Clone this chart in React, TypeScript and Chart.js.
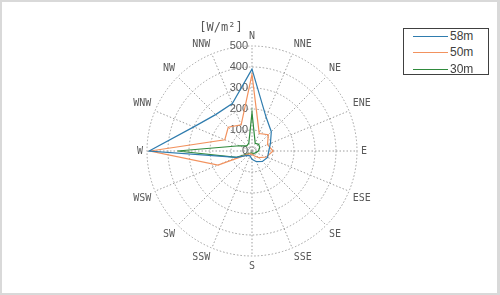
import React, { useEffect, useRef } from 'react';
import { Chart, registerables } from 'chart.js';

Chart.register(...registerables);

const directions = ['N', 'NNE', 'NE', 'ENE', 'E', 'ESE', 'SE', 'SSE', 'S', 'SSW', 'SW', 'WSW', 'W', 'WNW', 'NW', 'NNW'];
const power58 = [390, 175, 130, 95, 80, 80, 70, 55, 40, 25, 30, 80, 490, 300, 245, 245];
const power50 = [365, 90, 110, 80, 100, 75, 45, 25, 15, 15, 20, 175, 485, 140, 160, 135];
const power30 = [183, 40, 45, 40, 30, 20, 15, 12, 10, 10, 15, 80, 355, 65, 35, 40];
const tickValues = [0, 100, 200, 300, 400, 500];
const seriesNames = ['58m', '50m', '30m'];
const seriesColors = ['#2f7cae', '#f2925e', '#2f8a3c'];
const unitLabel = '[W/m²]';

const tickLabelPlugin = {
  id: 'tickLabelPlugin',
  beforeDatasetsDraw(chart: any) {
    const s = chart.scales.r;
    const ctx = chart.ctx;
    ctx.save();
    ctx.font = '11px "Liberation Sans", Arial, sans-serif';
    ctx.fillStyle = '#595959';
    ctx.textAlign = 'right';
    ctx.textBaseline = 'middle';
    tickValues.forEach((v) => {
      const d = s.getDistanceFromCenterForValue(v);
      ctx.fillText(String(v), s.xCenter - 4, s.yCenter - d);
    });
    ctx.strokeStyle = '#999999';
    ctx.lineWidth = 1;
    ctx.setLineDash([1.5, 1.5]);
    ctx.beginPath();
    ctx.arc(s.xCenter, s.yCenter, 4, 0, Math.PI * 2);
    ctx.stroke();
    ctx.restore();
  },
};

export default function App() {
  const canvasRef = useRef<HTMLCanvasElement | null>(null);

  useEffect(() => {
    if (!canvasRef.current) return;
    const series = [power58, power50, power30];
    const chart = new Chart(canvasRef.current, {
      type: 'radar',
      data: {
        labels: directions,
        datasets: series.map((d, i) => ({
          label: seriesNames[i],
          data: d,
          borderColor: seriesColors[i],
          backgroundColor: 'transparent',
          borderWidth: 1.2,
          pointRadius: 0,
          fill: false,
          tension: 0,
        })),
      },
      options: {
        responsive: false,
        animation: false,
        layout: { padding: { top: 30, bottom: 23, left: 10, right: 6 } },
        plugins: {
          legend: { display: false },
          tooltip: { enabled: false },
        },
        scales: {
          r: {
            min: 0,
            max: 500,
            ticks: { display: false, stepSize: 100 },
            grid: { circular: true, color: '#9e9e9e', lineWidth: 1 },
            border: { dash: [1.5, 2] },
            angleLines: { color: '#9e9e9e', lineWidth: 1, borderDash: [1.5, 2] },
            pointLabels: {
              font: { family: '"DejaVu Sans Mono", monospace', size: 10 },
              color: '#595959',
              padding: 4,
            },
          },
        } as any,
      },
      plugins: [tickLabelPlugin],
    });
    return () => chart.destroy();
  }, []);

  const rowTops = [0, 16, 33];

  return (
    <div style={{ position: 'fixed', left: 0, top: 0, width: 500, height: 295, background: '#fff', overflow: 'hidden' }}>
      <canvas ref={canvasRef} width={500} height={295} style={{ position: 'absolute', left: 0, top: 0, width: 500, height: 295 }} />
      <div
        style={{
          position: 'absolute',
          left: 221,
          top: 27,
          transform: 'translate(-50%, -50%)',
          font: '12px "DejaVu Sans Mono", monospace',
          color: '#595959',
          whiteSpace: 'nowrap',
        }}
      >
        {unitLabel}
      </div>
      <div
        style={{
          position: 'absolute',
          left: 403,
          top: 28,
          width: 86,
          height: 47,
          border: '1px solid #404040',
          boxSizing: 'border-box',
          background: '#fff',
        }}
      >
        {seriesNames.map((name, i) => (
          <div key={name} style={{ position: 'absolute', left: 0, top: rowTops[i], height: 16, width: 84 }}>
            <div style={{ position: 'absolute', left: 9, top: 7, width: 35, height: 1, background: seriesColors[i] }} />
            <div
              style={{
                position: 'absolute',
                left: 46,
                top: 0,
                lineHeight: '16px',
                font: '12px "Liberation Sans", Arial, sans-serif',
                color: '#404040',
              }}
            >
              {name}
            </div>
          </div>
        ))}
      </div>
      <div
        style={{
          position: 'absolute',
          left: 0,
          top: 0,
          width: 500,
          height: 295,
          boxSizing: 'border-box',
          borderTop: '2px solid #d9d9d9',
          borderLeft: '2px solid #d9d9d9',
          borderBottom: '2px solid #d9d9d9',
          borderRight: '3px solid #d9d9d9',
          pointerEvents: 'none',
        }}
      />
    </div>
  );
}
